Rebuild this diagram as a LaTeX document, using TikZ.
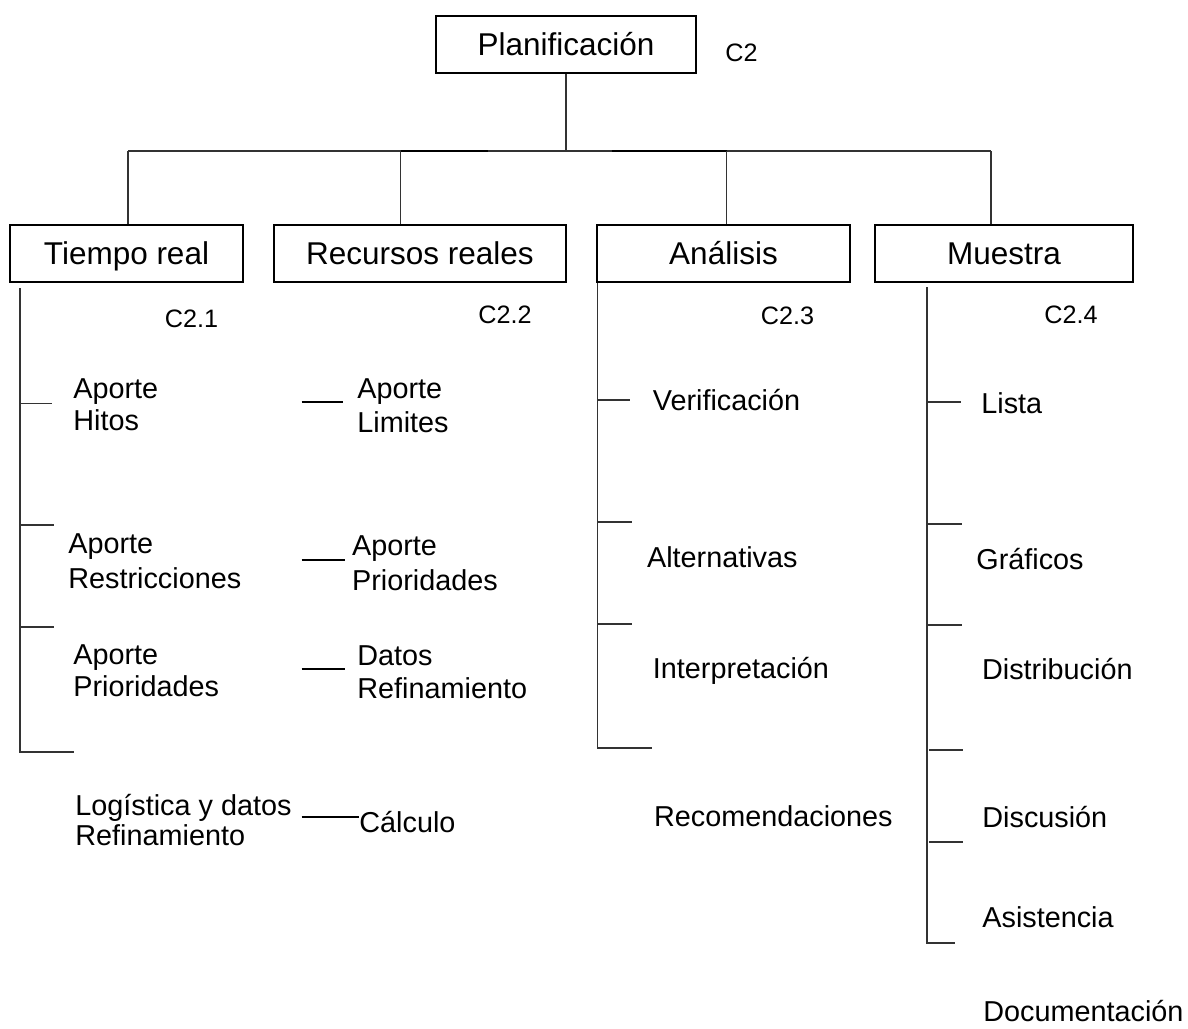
\documentclass[tikz,border=0pt]{standalone}
\usepackage{fontspec}
\setmainfont{Liberation Sans}
\begin{document}
\begin{tikzpicture}[x=0.5pt,y=-0.5pt,
  thinln/.style={line width=0.6pt,black!80},
  thickln/.style={line width=1.1pt,black},
  box/.style={draw,line width=1.1pt,inner sep=0pt,font=\fontsize{15.75pt}{18pt}\selectfont,text height=11.28pt,text depth=0pt},
  lbl/.style={anchor=west,inner sep=0pt,font=\fontsize{14.4pt}{16.5pt}\selectfont,text height=10.3pt,text depth=0pt},
  code/.style={inner sep=0pt,font=\fontsize{12.6pt}{14pt}\selectfont,text height=9.02pt,text depth=0pt}]
\useasboundingbox (0,0) rectangle (1188,1028);
% top box
\node[box,minimum width=130pt,minimum height=28.5pt] (plan) at (566,44.5) {Planificación};
\node[code] (c2) at (741.5,52) {C2};
% level-2 boxes
\node[box,minimum width=116.5pt,minimum height=28.5pt] (t1) at (126.5,253.5) {Tiempo real};
\node[box,minimum width=146pt,minimum height=28.5pt] (t2) at (420,253.5) {Recursos reales};
\node[box,minimum width=126.5pt,minimum height=28.5pt] (t3) at (723.5,253.5) {Análisis};
\node[box,minimum width=129pt,minimum height=28.5pt] (t4) at (1004,253.5) {Muestra};
% bar
\coordinate (j1) at (128,151);
\coordinate (j2) at (400.7,151);
\coordinate (j3) at (726.7,151);
\coordinate (j4) at (991,151);
\coordinate (tk1) at (488,151);
\coordinate (tk2) at (611.7,151);
\draw[thinln] (plan.south) -- (plan.south |- j1);
\draw[thinln] (j1) -- (j4);
\draw[thickln] (j2) -- (tk1);
\draw[thickln] (tk2) -- (j3);
\draw[thinln] (j1) -- (j1 |- t1.north);
\draw[thinln] (j2) -- (j2 |- t2.north);
\draw[thinln] (j3) -- (j3 |- t3.north);
\draw[thinln] (j4) -- (j4 |- t4.north);
% codes
\node[code] (c21) at (191.5,318) {C2.1};
\node[code] (c22) at (505,314) {C2.2};
\node[code] (c23) at (787.5,315) {C2.3};
\node[code] (c24) at (1071,314) {C2.4};
% column 1
\coordinate (a1) at (20,288.3);
\coordinate (a2) at (20,752);
\draw[thinln] (a1) -- (a2) -- (74,752);
\draw[thinln] (20,403.6) -- (52,403.6);
\draw[thinln] (20,525) -- (53.5,525);
\draw[thinln] (20,627) -- (53.5,627);
\node[lbl] (h1a) at (73,388) {Aporte};
\node[lbl] (h1b) at (73,420) {Hitos};
\node[lbl] (r1a) at (68,543) {Aporte};
\node[lbl] (r1b) at (68,578) {Restricciones};
\node[lbl] (p1a) at (73,654) {Aporte};
\node[lbl] (p1b) at (73,686) {Prioridades};
\node[lbl] (l1a) at (75,805) {Logística y datos};
\node[lbl] (l1b) at (75,835) {Refinamiento};
% column 2
\node[lbl] (h2a) at (357,388) {Aporte};
\node[lbl] (h2b) at (357,421.7) {Limites};
\node[lbl] (p2a) at (351.7,545) {Aporte};
\node[lbl] (p2b) at (351.7,580) {Prioridades};
\node[lbl] (d2a) at (357,655) {Datos};
\node[lbl] (d2b) at (357,688) {Refinamiento};
\node[lbl] (calc) at (359,822) {Cálculo};
\coordinate (k1) at (301.7,402.3);
\coordinate (k2) at (301.7,560);
\coordinate (k3) at (301.7,669);
\coordinate (k4) at (301.7,817);
\draw[thickln] (k1) -- (342.7,402.3);
\draw[thickln] (k2) -- (345,560);
\draw[thickln] (k3) -- (345,669);
\draw[thickln] (k4) -- (calc.west |- k4);
% column 3
\coordinate (b1) at (597.4,283);
\coordinate (b2) at (597.4,748);
\draw[thinln] (b1) -- (b2) -- (652,748);
\draw[thinln] (597.4,400) -- (630,400);
\draw[thinln] (597.4,522) -- (632,522);
\draw[thinln] (597.4,624) -- (632,624);
\node[lbl] (v3) at (652.5,400) {Verificación};
\node[lbl] (al3) at (646.7,557) {Alternativas};
\node[lbl] (in3) at (652.5,668) {Interpretación};
\node[lbl] (re3) at (653.7,816) {Recomendaciones};
% column 4
\coordinate (m1) at (927,287);
\coordinate (m2) at (927,943);
\draw[thinln] (m1) -- (m2) -- (955,943);
\draw[thinln] (927,402) -- (961,402);
\draw[thinln] (927,524) -- (962,524);
\draw[thinln] (927,625) -- (962,625);
\draw[thinln] (929,750) -- (963,750);
\draw[thinln] (929,842) -- (963,842);
\node[lbl] (li4) at (981,403) {Lista};
\node[lbl] (gr4) at (976,559) {Gráficos};
\node[lbl] (di4) at (981.7,669.6) {Distribución};
\node[lbl] (ds4) at (982,817) {Discusión};
\node[lbl] (as4) at (982,917) {Asistencia};
\node[lbl] (do4) at (983,1011) {Documentación};
\end{tikzpicture}
\end{document}
